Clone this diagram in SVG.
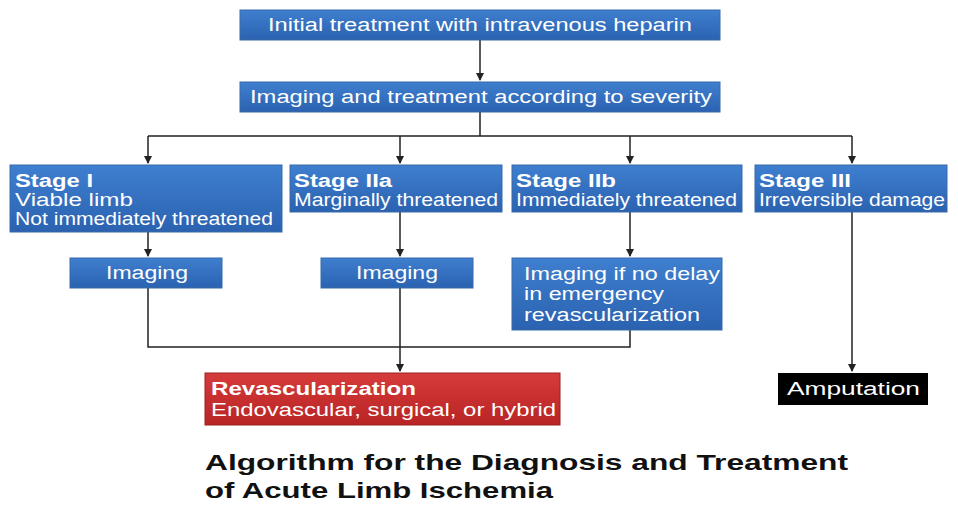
<svg xmlns="http://www.w3.org/2000/svg" width="958" height="512" viewBox="0 0 958 512">
<style>
text{font-family:"Liberation Sans",Arial,sans-serif;fill:#fff;font-size:18px}
.b{fill:url(#g);stroke:#3a6aa8;stroke-width:1}
.c{stroke:#222;stroke-width:1.5;fill:none}
.h{font-weight:bold;font-size:18px}
.t{fill:#111;font-weight:bold;font-size:22px}
</style>
<defs>
<linearGradient id="g" x1="0" y1="0" x2="0" y2="1"><stop offset="0" stop-color="#3f7fcf"/><stop offset="1" stop-color="#2a62b0"/></linearGradient>
<linearGradient id="r" x1="0" y1="0" x2="0" y2="1"><stop offset="0" stop-color="#d63b3b"/><stop offset="1" stop-color="#b82424"/></linearGradient>
<marker id="a" markerWidth="8" markerHeight="8" refX="7" refY="4" orient="auto" markerUnits="userSpaceOnUse"><path d="M0,0L8,4L0,8z" fill="#222"/></marker>
</defs>
<rect width="958" height="512" fill="#fff"/>
<g id="connectors">
<path class="c" d="M480,40V80" marker-end="url(#a)"/>
<path class="c" d="M480,112V136M148,136H852"/>
<path class="c" d="M148,136V163" marker-end="url(#a)"/>
<path class="c" d="M400,136V163" marker-end="url(#a)"/>
<path class="c" d="M630,136V163" marker-end="url(#a)"/>
<path class="c" d="M852,136V163" marker-end="url(#a)"/>
<path class="c" d="M148,232V256" marker-end="url(#a)"/>
<path class="c" d="M400,212V256" marker-end="url(#a)"/>
<path class="c" d="M630,212V256" marker-end="url(#a)"/>
<path class="c" d="M148,288V347H630V330M400,288V371" marker-end="url(#a)"/>
<path class="c" d="M852,212V371" marker-end="url(#a)"/>
</g>
<g id="n1"><rect class="b" x="240" y="10" width="480" height="30"/><text x="268" y="31" textLength="424" lengthAdjust="spacingAndGlyphs">Initial treatment with intravenous heparin</text></g>
<g id="n2"><rect class="b" x="240" y="82" width="480" height="30"/><text x="250" y="103" textLength="462" lengthAdjust="spacingAndGlyphs">Imaging and treatment according to severity</text></g>
<g id="s1"><rect class="b" x="10" y="165" width="272" height="67"/><text x="15" y="187" class="h" textLength="78" lengthAdjust="spacingAndGlyphs">Stage I</text><text x="15" y="206" textLength="118" lengthAdjust="spacingAndGlyphs">Viable limb</text><text x="15" y="225" textLength="258" lengthAdjust="spacingAndGlyphs">Not immediately threatened</text></g>
<g id="s2a"><rect class="b" x="290" y="165" width="212" height="47"/><text x="294" y="187" class="h" textLength="98" lengthAdjust="spacingAndGlyphs">Stage IIa</text><text x="294" y="206" textLength="204" lengthAdjust="spacingAndGlyphs">Marginally threatened</text></g>
<g id="s2b"><rect class="b" x="512" y="165" width="230" height="47"/><text x="516" y="187" class="h" textLength="100" lengthAdjust="spacingAndGlyphs">Stage IIb</text><text x="516" y="206" textLength="221" lengthAdjust="spacingAndGlyphs">Immediately threatened</text></g>
<g id="s3"><rect class="b" x="755" y="165" width="192" height="47"/><text x="759" y="187" class="h" textLength="92" lengthAdjust="spacingAndGlyphs">Stage III</text><text x="759" y="206" textLength="186" lengthAdjust="spacingAndGlyphs">Irreversible damage</text></g>
<g id="i1"><rect class="b" x="70" y="258" width="152" height="30"/><text x="106" y="279" textLength="82" lengthAdjust="spacingAndGlyphs">Imaging</text></g>
<g id="i2"><rect class="b" x="321" y="258" width="152" height="30"/><text x="356" y="279" textLength="82" lengthAdjust="spacingAndGlyphs">Imaging</text></g>
<g id="i3"><rect class="b" x="512" y="258" width="210" height="72"/><text x="524" y="280" textLength="196" lengthAdjust="spacingAndGlyphs">Imaging if no delay</text><text x="524" y="300" textLength="140" lengthAdjust="spacingAndGlyphs">in emergency</text><text x="524" y="321" textLength="176" lengthAdjust="spacingAndGlyphs">revascularization</text></g>
<g id="rev"><rect x="205" y="373" width="355" height="52" fill="url(#r)" stroke="#9a2020"/><text x="211" y="395" class="h" textLength="205" lengthAdjust="spacingAndGlyphs">Revascularization</text><text x="211" y="416" textLength="345" lengthAdjust="spacingAndGlyphs">Endovascular, surgical, or hybrid</text></g>
<g id="amp"><rect x="778" y="373" width="150" height="32" fill="#000"/><text x="787" y="395" textLength="133" lengthAdjust="spacingAndGlyphs">Amputation</text></g>
<text class="t" x="205" y="470" textLength="643" lengthAdjust="spacingAndGlyphs">Algorithm for the Diagnosis and Treatment</text>
<text class="t" x="205" y="498" textLength="348" lengthAdjust="spacingAndGlyphs">of Acute Limb Ischemia</text>
</svg>
